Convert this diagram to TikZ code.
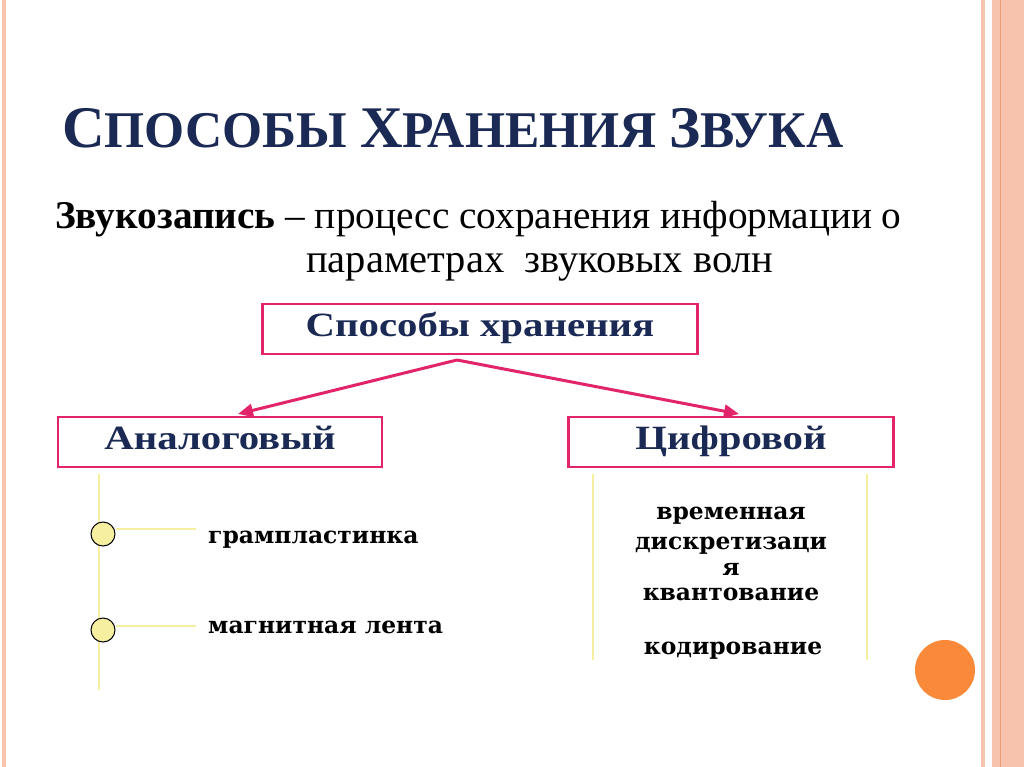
\documentclass[tikz,border=0pt]{standalone}
\usepackage{fontspec}
\setmainfont{Liberation Serif}
\newfontfamily\itemfont{DejaVu Serif}
\newfontfamily\boxfont[FakeStretch=1.2]{Liberation Serif}
\usetikzlibrary{arrows.meta, positioning}

\definecolor{rosered}{HTML}{E2246B}
\definecolor{navyink}{HTML}{1B2A55}
\definecolor{paleyellow}{HTML}{F6EFA0}
\definecolor{stripe}{HTML}{F7C3AD}
\definecolor{stripeline}{HTML}{EE9E74}
\definecolor{dotorange}{HTML}{FA8A3A}

\begin{document}
\begin{tikzpicture}[
    x=1pt, y=-1pt,
    kindbox/.style={rectangle, draw=rosered, line width=2.8pt, minimum height=50pt, text height=23pt, text depth=9pt, inner sep=0pt, font=\boxfont\fontsize{34}{36}\selectfont\bfseries, text=navyink},
    arrow/.style={-{Triangle[length=15pt,width=13pt]}, draw=rosered, line width=3pt},
    rail/.style={draw=paleyellow, line width=2.2pt},
    bullet/.style={circle, draw=black, fill=paleyellow, line width=1pt, minimum size=24pt, inner sep=0pt},
    itemtext/.style={font=\itemfont\fontsize{23.4}{26}\selectfont\bfseries, text=black}
]
\useasboundingbox (0,0) rectangle (1024,767);
\fill[white] (0,0) rectangle (1024,767);

% page border stripes
\fill[stripe] (2,0) rectangle (6,767);
\fill[stripe] (981,0) rectangle (985,767);
\fill[stripe] (992,0) rectangle (1024,767);
\draw[stripeline, line width=1pt] (1000,0) -- (1000,767);

% heading
\node[anchor=base west, text=navyink, inner sep=0pt, font=\bfseries] (title) at (62,148)
  {\fontsize{59}{60}\selectfont С\fontsize{51.5}{52}\selectfont ПОСОБЫ \fontsize{59}{60}\selectfont Х\fontsize{51.5}{52}\selectfont РАНЕНИЯ \fontsize{59}{60}\selectfont З\fontsize{51.5}{52}\selectfont ВУКА};

\node[anchor=base west, inner sep=0pt, font=\fontsize{39.3}{44}\selectfont] (defn) at (55,229)
  {\textbf{Звукозапись} -- процесс сохранения информации о};
\node[anchor=base west, inner sep=0pt, font=\fontsize{40.5}{44}\selectfont] (defn2) at (306,272)
  {параметрах\ \ звуковых волн};

% boxes
\node[kindbox, minimum width=435pt] (store) at (480,329) {Способы хранения};
\node[kindbox, minimum width=324pt] (analog) at (220,442) {Аналоговый};
\node[kindbox, minimum width=325pt] (digital) at (731,442) {Цифровой};

\coordinate (fork) at (457,360);
\coordinate (aend) at (238,414);
\coordinate (dend) at (739,414);
\draw[arrow] (fork) -- (aend);
\draw[arrow] (fork) -- (dend);

% analog branch
\coordinate (atop) at (99,474);
\coordinate (abot) at (99,690);
\draw[rail] (atop) -- (abot);
\node[bullet] (b1) at (103,534) {};
\node[bullet] (b2) at (103,630) {};
\coordinate (e1) at (196,529);
\coordinate (e2) at (196,626);
\draw[rail] (b1.east |- e1) -- (e1);
\draw[rail] (b2.east |- e2) -- (e2);
\node[itemtext, anchor=base west, inner sep=0pt] (disc) at (208,543) {грампластинка};
\node[itemtext, anchor=base west, inner sep=0pt] (tape) at (208,633) {магнитная лента};

% digital branch
\coordinate (dtl) at (593,474);
\coordinate (dbl) at (593,660);
\coordinate (dtr) at (867,474);
\coordinate (dbr) at (867,660);
\draw[rail] (dtl) -- (dbl);
\draw[rail] (dtr) -- (dbr);
\node[itemtext, anchor=base] (step1) at (731,519) {временная};
\node[itemtext, anchor=base] (step1b) at (731,549) {дискретизаци};
\node[itemtext, anchor=base] (step1c) at (731,575) {я};
\node[itemtext, anchor=base] (step2) at (731,600) {квантование};
\node[itemtext, anchor=base] (step3) at (733,654) {кодирование};

\fill[dotorange] (945,670) circle (30);
\end{tikzpicture}
\end{document}
